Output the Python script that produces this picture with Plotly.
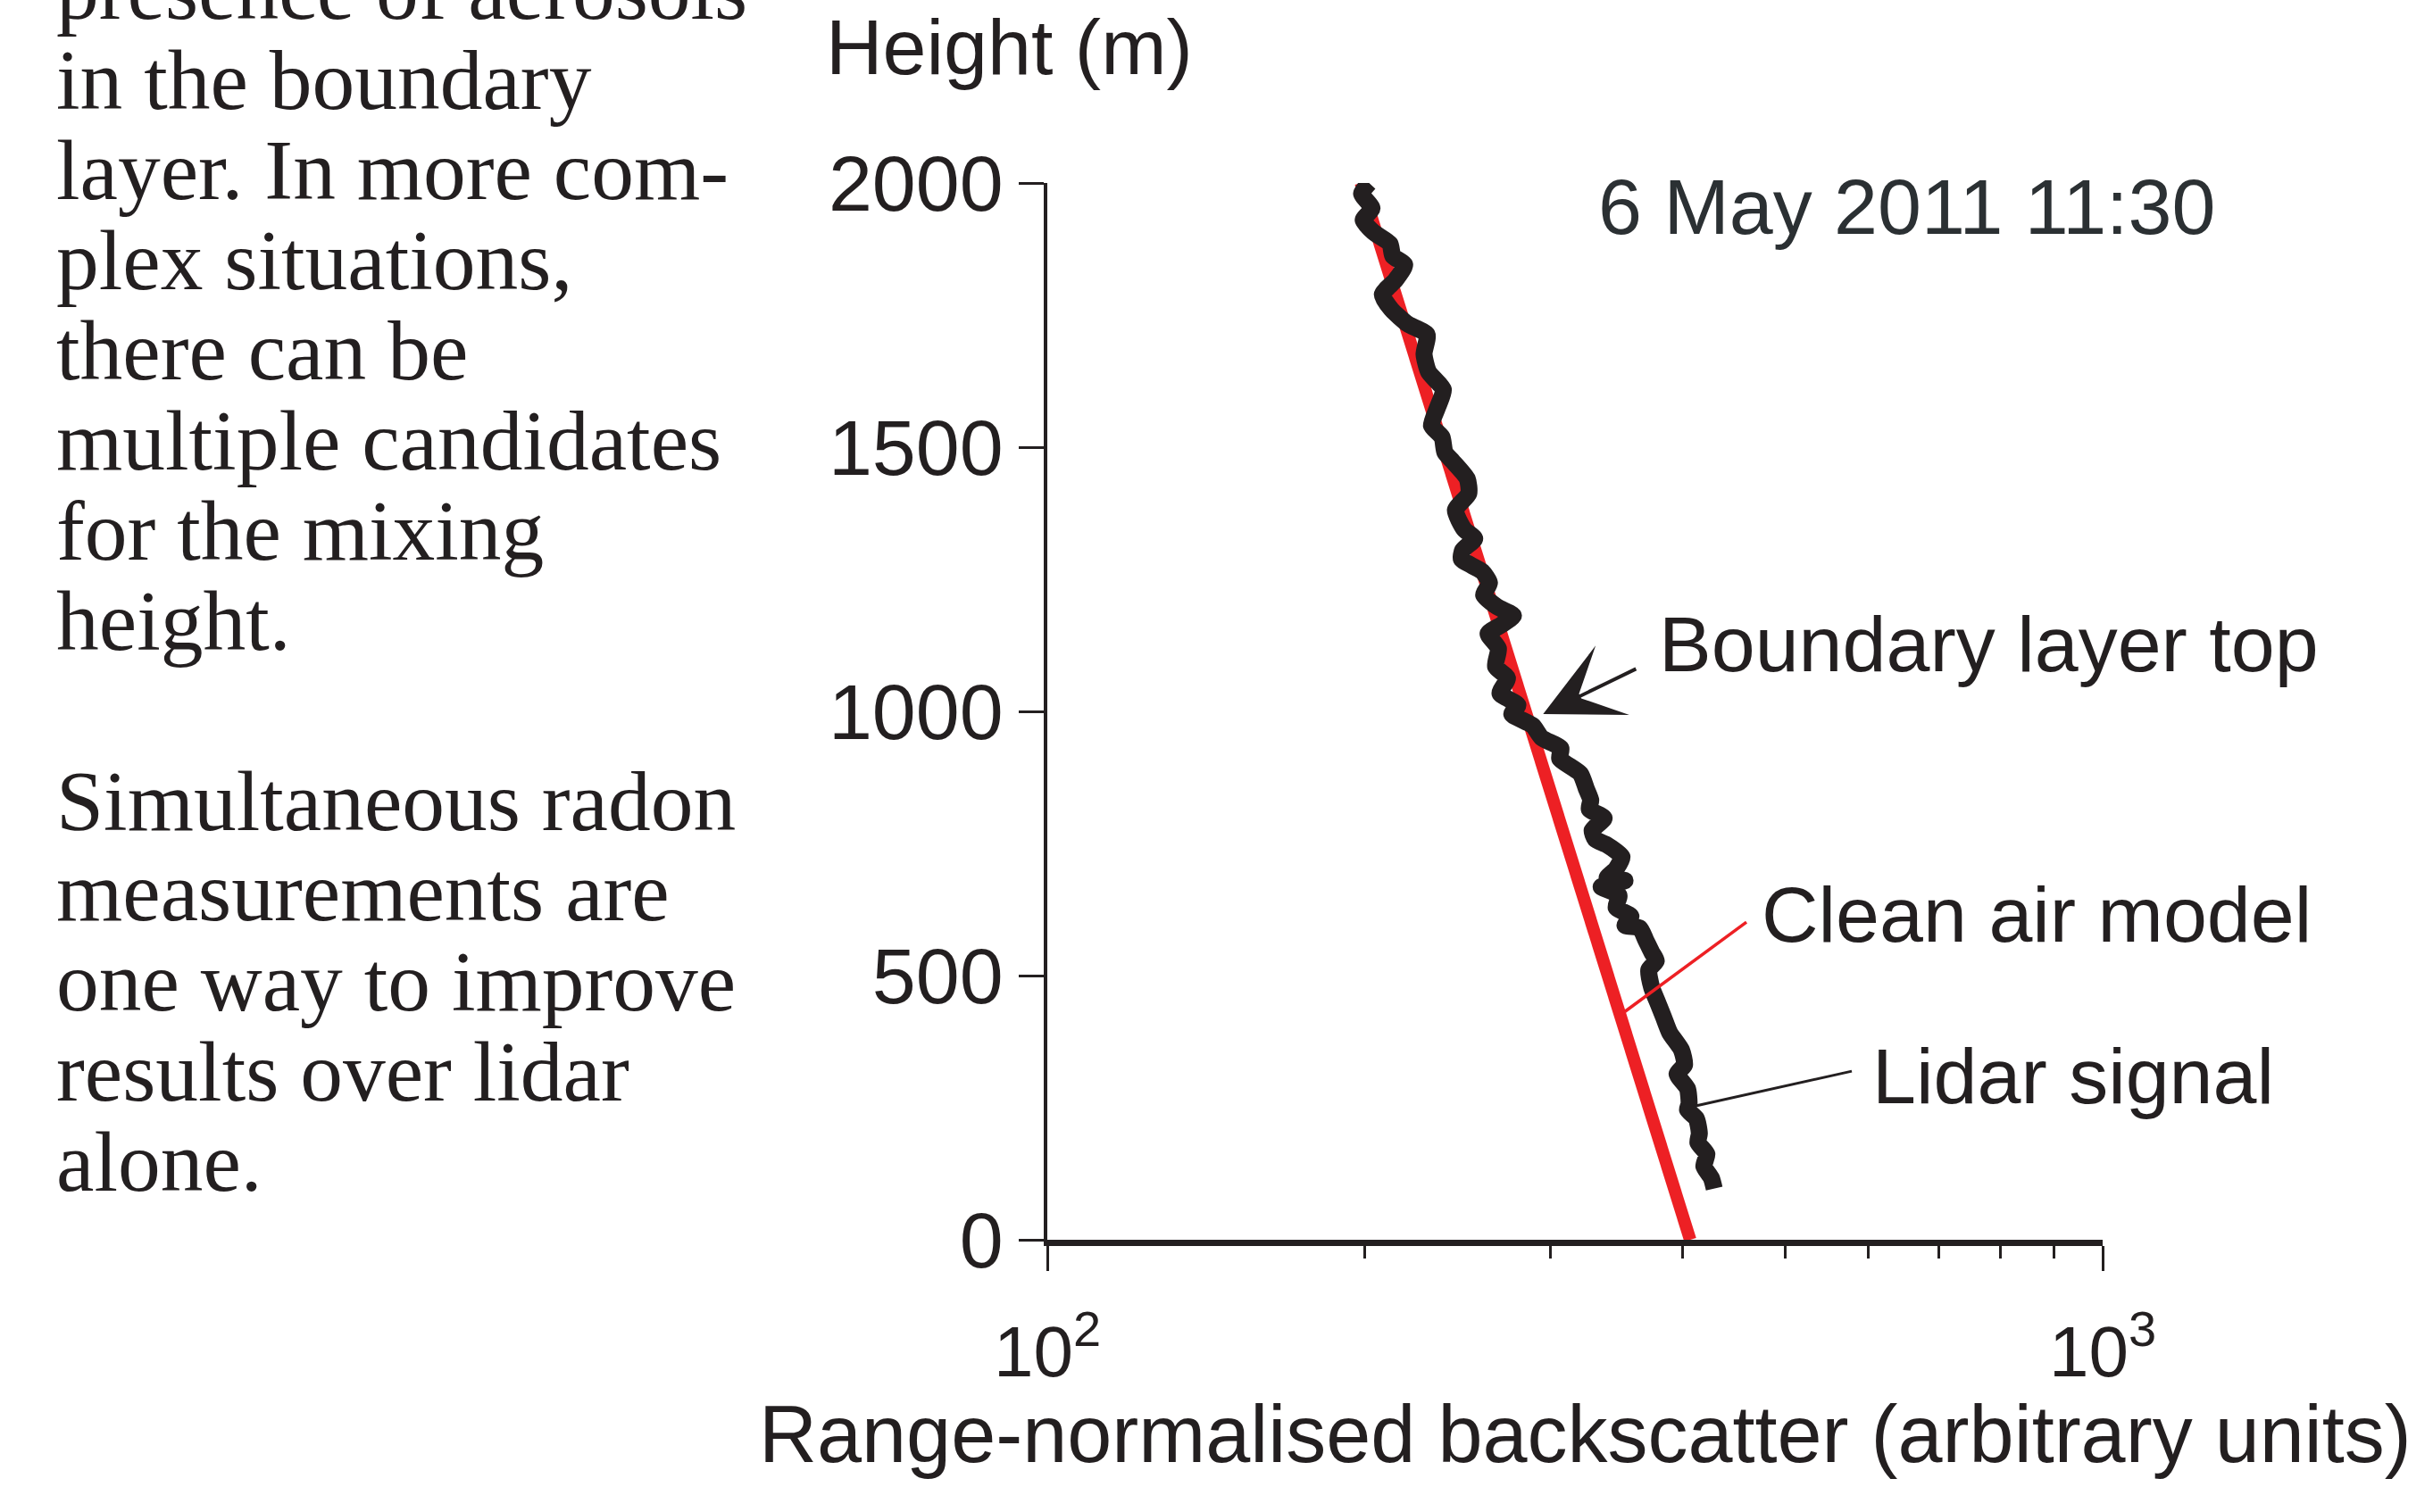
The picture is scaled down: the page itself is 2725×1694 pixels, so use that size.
import numpy as np
import plotly.graph_objects as go

# ---------------- data ----------------
# Lidar signal: height (m) and range-normalised backscatter (arbitrary units)
LIDAR_HEIGHT = [2000, 1980, 1952, 1930, 1907, 1885, 1862, 1845, 1817, 1789, 1761, 1733, 1713,
                1676, 1642, 1609, 1575, 1541, 1519, 1490, 1474, 1440, 1412, 1381, 1344, 1327,
                1305, 1288, 1265, 1243, 1220, 1198, 1181, 1164, 1147, 1119, 1085, 1063, 1034,
                1012, 995, 973, 950, 930, 911, 882, 854, 832, 815, 798, 775, 758, 747, 725,
                702, 685, 680, 668, 652, 629, 612, 595, 590, 567, 544, 528, 511, 477, 449,
                421, 392, 359, 331, 314, 286, 257, 246, 229, 201, 184, 162, 139, 117, 97]
LIDAR_BACKSCATTER = [201.8, 198.5, 203.1, 199.2, 203.7, 211.2, 212.5, 218.1, 213.9, 207.7, 211.8,
                     219.6, 229.0, 227.5, 229.8, 237.3, 234.3, 231.2, 236.6, 238.1, 242.0, 250.0,
                     250.8, 243.6, 248.4, 254.1, 247.5, 246.8, 258.2, 262.4, 259.1, 266.8, 276.5,
                     269.4, 261.6, 267.6, 265.9, 272.9, 268.5, 279.2, 275.5, 288.4, 294.1, 306.7,
                     305.8, 320.0, 324.1, 327.3, 326.2, 337.0, 328.3, 330.5, 339.2, 350.4, 345.9,
                     339.2, 352.7, 334.8, 348.1, 345.9, 357.3, 352.7, 364.3, 369.1, 373.9, 377.6,
                     371.5, 373.9, 378.8, 383.7, 388.8, 399.0, 401.6, 395.1, 404.2, 405.6, 404.2,
                     412.2, 414.8, 413.5, 421.7, 418.9, 425.8, 428.5]

# Clean air model (straight line in log-backscatter vs height)
MODEL_HEIGHT = [0, 2000]
MODEL_BACKSCATTER = [406.6, 198.2]

# Boundary layer top (arrow target)
BL_TOP_BACKSCATTER = 295.0
BL_TOP_HEIGHT = 995

# Leader lines for the labels
CLEAN_LEADER_X = [352.7, 459.7]
CLEAN_LEADER_Y = [432, 601]
LIDAR_LEADER_X = [410.6, 578.5]
LIDAR_LEADER_Y = [253, 319]

Y_TICKS = [0, 500, 1000, 1500, 2000]
X_MAJOR_TICKS = [100, 1000]
X_MAJOR_TEXT = ["10<sup>2</sup>", "10<sup>3</sup>"]
X_MINOR_TICKS = [200, 300, 400, 500, 600, 700, 800, 900]

LEFT_TEXT = ["presence of aerosols", "in the boundary", "layer. In more com-",
             "plex situations,", "there can be", "multiple candidates",
             "for the mixing", "height.", "", "Simultaneous radon",
             "measurements are", "one way to improve", "results over lidar", "alone."]

# ---------------- style / layout ----------------
W, H = 2725, 1694
PL, PR, PT, PB = 1173, 2355, 205, 1389
INK = "#231f20"
RED = "#ed2024"
SANS = "Liberation Sans"
SERIF = "Liberation Serif"


def px(X):
    return (X - PL) / (PR - PL)


def py(Y):
    return (PB - Y) / (PB - PT)


fig = go.Figure()

fig.add_trace(go.Scatter(x=MODEL_BACKSCATTER, y=MODEL_HEIGHT, mode="lines",
                         line=dict(color=RED, width=14), hoverinfo="skip"))
fig.add_trace(go.Scatter(x=LIDAR_BACKSCATTER, y=LIDAR_HEIGHT, mode="lines",
                         line=dict(color=INK, width=19, shape="spline", smoothing=0.6),
                         hoverinfo="skip"))
fig.add_trace(go.Scatter(x=CLEAN_LEADER_X, y=CLEAN_LEADER_Y, mode="lines",
                         line=dict(color=RED, width=3.5), hoverinfo="skip"))
fig.add_trace(go.Scatter(x=LIDAR_LEADER_X, y=LIDAR_LEADER_Y, mode="lines",
                         line=dict(color=INK, width=3), hoverinfo="skip"))

annotations = []

# Arrow to boundary layer top
annotations.append(dict(x=np.log10(BL_TOP_BACKSCATTER), y=BL_TOP_HEIGHT, xref="x", yref="y",
                        text=" ", showarrow=True, arrowhead=3, arrowsize=3.6, arrowwidth=4,
                        arrowcolor=INK, ax=107, ay=-52, standoff=0,
                        font=dict(family=SANS, size=10, color=INK)))

sans_labels = [
    ("Height (m)", 923, 83, INK),
    ("6 May 2011 11:30", 1788, 262, "#2b3033"),
    ("Boundary layer top", 1856, 752, INK),
    ("Clean air model", 1971, 1055, INK),
    ("Lidar signal", 2095, 1236, INK),
]
SANS_SIZE = 88
for txt, X, Yb, col in sans_labels:
    annotations.append(dict(x=px(X), y=py(Yb - 0.347 * SANS_SIZE), xref="paper", yref="paper",
                            text=txt, showarrow=False, xanchor="left", yanchor="middle",
                            font=dict(family=SANS, size=SANS_SIZE, color=col)))

annotations.append(dict(x=px(1775), y=py(1638 - 0.347 * 90), xref="paper", yref="paper",
                        text="Range-normalised backscatter (arbitrary units)", showarrow=False,
                        xanchor="center", yanchor="middle",
                        font=dict(family=SANS, size=90, color=INK)))

SERIF_SIZE = 95.5
for i, line in enumerate(LEFT_TEXT):
    if not line:
        continue
    Yb = 21 + 101 * i
    annotations.append(dict(x=px(61), y=py(Yb - 0.3375 * SERIF_SIZE), xref="paper", yref="paper",
                            text=line, showarrow=False, xanchor="left", yanchor="middle",
                            font=dict(family=SERIF, size=SERIF_SIZE, color=INK)))

fig.update_layout(
    width=W, height=H,
    margin=dict(l=PL, r=W - PR, t=PT, b=H - PB, pad=0),
    paper_bgcolor="white", plot_bgcolor="white",
    showlegend=False,
    annotations=annotations,
    xaxis=dict(type="log", range=[2, 3], tickmode="array", tickvals=X_MAJOR_TICKS,
               ticktext=X_MAJOR_TEXT, ticks="outside", ticklen=28, tickwidth=3, tickcolor=INK,
               showline=True, linewidth=7, linecolor=INK, showgrid=False, zeroline=False,
               tickfont=dict(family=SANS, size=80, color=INK), ticklabelstandoff=22,
               minor=dict(tickmode="array", tickvals=X_MINOR_TICKS, ticks="outside",
                          ticklen=14, tickwidth=3, tickcolor=INK, showgrid=False),
               fixedrange=True),
    yaxis=dict(range=[0, 2000], tickmode="array", tickvals=Y_TICKS, ticks="outside",
               ticklen=28, tickwidth=3, tickcolor=INK, showline=True, linewidth=3.5,
               linecolor=INK, showgrid=False, zeroline=False,
               tickfont=dict(family=SANS, size=88, color=INK), ticklabelstandoff=0,
               fixedrange=True),
)

fig.write_html("out.html")
